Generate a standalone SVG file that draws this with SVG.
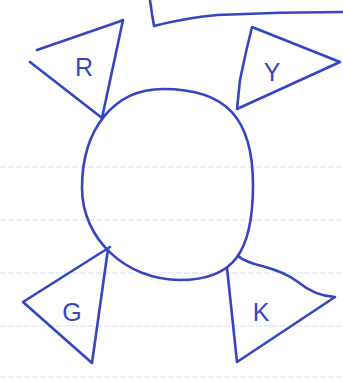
<svg xmlns="http://www.w3.org/2000/svg" width="343" height="381" viewBox="0 0 343 381">
<style>
.ink{fill:none;stroke:#3346c0;stroke-width:2.6;stroke-linecap:round;stroke-linejoin:round}
.paper{fill:none;stroke:#d3def1;stroke-width:1.2;stroke-dasharray:6 2}
.lbl{font-family:"Liberation Sans",Arial,sans-serif;font-size:25px;fill:#3346c0;text-anchor:middle}
</style>
<rect width="343" height="381" fill="#ffffff"/>
<g id="paper-lines">
<line class="paper" x1="0" y1="167" x2="343" y2="167"/>
<line class="paper" x1="0" y1="220" x2="343" y2="220"/>
<line class="paper" x1="0" y1="273" x2="343" y2="273"/>
<line class="paper" x1="0" y1="326" x2="343" y2="326"/>
<line class="paper" x1="0" y1="377" x2="343" y2="377"/>
</g>
<g id="top-box">
<path class="ink" d="M150,0 L152,14 L154,26 Q185,18 217,15 Q280,12 343,12"/>
</g>
<g id="circle">
<path class="ink" d="M163,89 C226,89 253,118 253,185 C253,253 233,280 180,280 C126,280 82,239 82,188 C82,129 114,89 163,89 Z"/>
</g>
<g id="node-R">
<path class="ink" d="M37,50 L118,22 L123,20 L102,118 L30,62"/>
<text class="lbl" x="84" y="76">R</text>
</g>
<g id="node-Y">
<path class="ink" d="M252,27 L340,62 L237,109 L240,80 L246,52 Z"/>
<text class="lbl" x="272" y="81">Y</text>
</g>
<g id="node-G">
<path class="ink" d="M110,247 L23,302 L92,363 L108,249"/>
<text class="lbl" x="72" y="321">G</text>
</g>
<g id="node-K">
<path class="ink" d="M238,256 Q245,262 262,266 Q285,272 298,282 Q315,296 335,297 L237,362 L227,268"/>
<text class="lbl" x="261" y="321">K</text>
</g>
</svg>
